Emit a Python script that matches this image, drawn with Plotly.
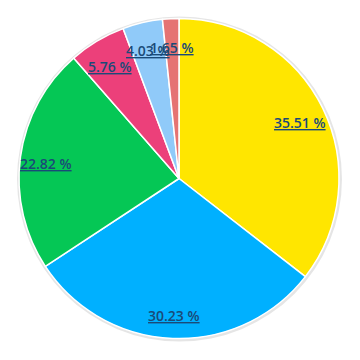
import math
import plotly.graph_objects as go

labels = ["A", "B", "C", "D", "E", "F"]
values = [35.51, 30.23, 22.82, 5.76, 4.03, 1.65]
colors = ["#FFE600", "#00B0FF", "#05C755", "#EC407A", "#90CAF9", "#E57373"]
text_labels = ["35.51 %", "30.23 %", "22.82 %", "5.76 %", "4.03 %", "1.65 %"]

W = H = 360
cx, cy, R = 179, 178.5, 160

fig = go.Figure()
# shadow
fig.add_trace(go.Pie(
    values=[1], marker=dict(colors=["rgba(0,0,0,0.10)"], line=dict(width=0)),
    domain=dict(x=[(cx - R - 2) / W, (cx + R + 3) / W], y=[1 - (cy + R + 3) / H, 1 - (cy - R - 2) / H]),
    textinfo="none", hoverinfo="skip", showlegend=False, sort=False,
))
fig.add_trace(go.Pie(
    labels=labels, values=values, sort=False, direction="clockwise", rotation=0,
    marker=dict(colors=colors, line=dict(color="white", width=1.5)),
    domain=dict(x=[(cx - R) / W, (cx + R) / W], y=[1 - (cy + R) / H, 1 - (cy - R) / H]),
    textinfo="none", showlegend=False,
))

total = sum(values)
acc = 0
for v, t in zip(values, text_labels):
    mid = (acc + v / 2) / total * 2 * math.pi
    acc += v
    r = 0.84 * R
    x = cx + r * math.sin(mid)
    y = cy - r * math.cos(mid) + 3
    fig.add_annotation(
        x=x / W, y=1 - y / H, xref="paper", yref="paper",
        xanchor="center", yanchor="middle",
        text="<u>" + t + "</u>", showarrow=False,
        font=dict(family="Open Sans", size=14, color="#1A4A78", weight=600),
    )

fig.update_layout(width=W, height=H, margin=dict(l=0, r=0, t=0, b=0),
                  paper_bgcolor="white", plot_bgcolor="white")
fig.write_html("out.html")
